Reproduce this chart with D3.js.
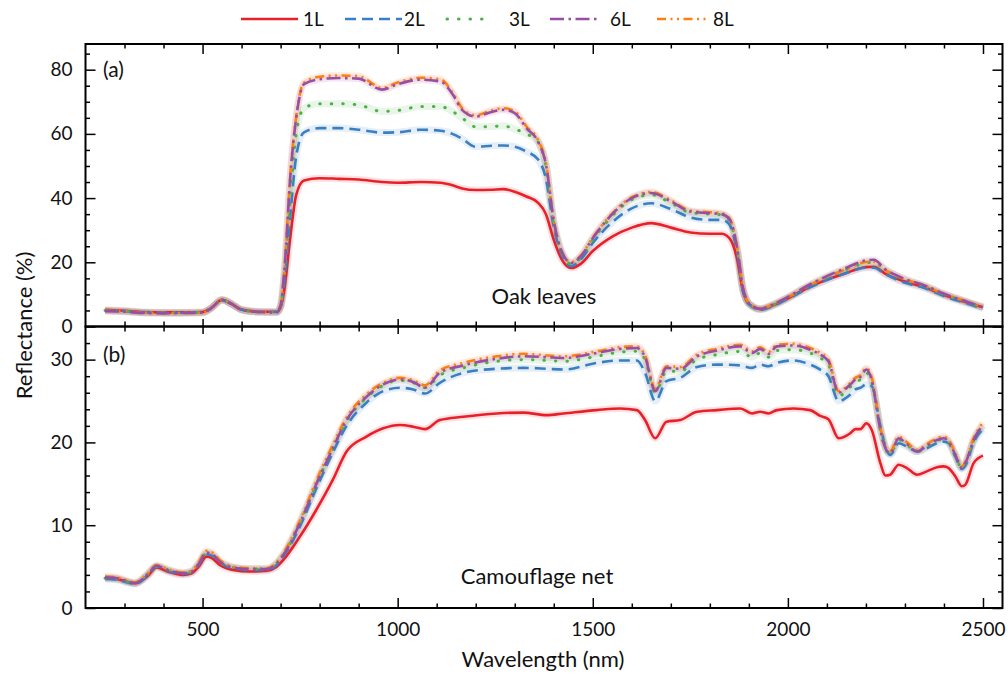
<!DOCTYPE html>
<html>
<head>
<meta charset="utf-8">
<script src="https://cdn.jsdelivr.net/npm/d3@7"></script>
<style>
  body { margin: 0; background: #fff; }
  svg text { font-family: Lato, "Open Sans", sans-serif; fill: #111; }
</style>
</head>
<body>
<div id="chart"></div>
<script>
// Wavelength grids (nm)
const wlTop = [250, 300, 350, 400, 450, 500, 520, 550, 575, 600, 650, 690, 700, 710, 725, 740, 760, 800, 850, 900,
  960, 1000, 1060, 1110, 1140, 1165, 1200, 1240, 1270, 1300, 1330, 1360, 1380, 1400, 1420, 1445, 1470, 1500, 1550,
  1600, 1650, 1700, 1750, 1800, 1830, 1850, 1870, 1885, 1900, 1930, 1960, 2000, 2050, 2100, 2150, 2200, 2220, 2250,
  2300, 2350, 2400, 2450, 2500];

const wlBot = [250, 280, 327, 360, 382, 410, 450, 472, 490, 510, 525, 544, 578, 621, 664, 690, 707, 749, 792, 834,
  869, 920, 963, 1006, 1040, 1070, 1108, 1168, 1254, 1322, 1382, 1425, 1510, 1570, 1613, 1634, 1660, 1689, 1724,
  1767, 1818, 1878, 1908, 1929, 1950, 1972, 2014, 2057, 2083, 2104, 2130, 2160, 2173, 2186, 2201, 2215, 2237, 2250,
  2262, 2284, 2305, 2331, 2356, 2382, 2399, 2412, 2429, 2446, 2455, 2476, 2500];

// (a) Oak leaves, reflectance (%)
const oak1L = [5.2, 4.9, 4.5, 4.4, 4.4, 4.5, 5.6, 8.3, 7.0, 5.3, 4.6, 4.6, 6, 12, 28, 41, 45.5, 46.2, 46, 45.8,
  45, 44.8, 45, 44.8, 44, 43, 42.5, 42.6, 42.8, 42, 40.5, 38.5, 35, 27, 21, 18.2, 19.6, 23.5, 28,
  30.8, 32.2, 30.8, 29.3, 28.9, 28.9, 27.5, 21, 11, 7, 5.4, 6.5, 8.8, 12, 14.6, 16.7, 18.5, 18.6, 16.4,
  14, 12.2, 9.8, 7.8, 6.0];
const oak2L = [5.0, 4.8, 4.4, 4.3, 4.3, 4.4, 5.5, 8.2, 6.9, 5.2, 4.5, 4.5, 6, 14, 35, 53, 60.5, 61.8, 61.8, 61.3,
  60.4, 60.5, 61.3, 61, 60, 58.5, 56, 56.3, 56.4, 56, 54.5, 52, 46, 31, 22.5, 18.8, 21, 26, 32.5,
  36.8, 38.4, 36.6, 34, 33.2, 33.2, 31.8, 23, 11, 7, 5.2, 6.3, 8.6, 11.8, 14.5, 16.7, 18.3, 18.3, 16.3,
  13.6, 12.0, 9.5, 7.5, 5.6];
const oak3L = [5.0, 4.8, 4.4, 4.3, 4.3, 4.4, 5.6, 8.3, 7.0, 5.2, 4.5, 4.5, 6.5, 16, 40, 60, 68, 69.4, 69.4, 69,
  67, 67.3, 68.5, 68.5, 67, 65, 62.2, 62.3, 62.5, 61.5, 60, 57.5, 50, 32, 23, 19.5, 21.5, 27, 34.5,
  39.5, 41, 38.5, 35.5, 35, 34.8, 33, 24, 11.5, 7.2, 5.4, 6.6, 9, 12.4, 15.3, 17.8, 19.8, 20, 17.5,
  14.6, 12.6, 10, 8, 5.9];
const oak6L = [4.8, 4.6, 4.2, 4.1, 4.2, 4.3, 5.5, 8.3, 7.0, 5.2, 4.5, 4.4, 6.5, 18, 47, 65, 75.5, 77, 77.4, 77.2,
  73.8, 75.5, 76.9, 76.3, 72.5, 67.5, 65.4, 66.8, 67.5, 66.5, 61.8, 57.5, 50.5, 33, 23.5, 19.8, 22, 27.5, 35,
  40, 41.6, 39, 35.8, 35.3, 35, 33.5, 24.5, 12, 7.3, 5.5, 6.8, 9.2, 12.7, 15.7, 18.3, 20.6, 20.8, 17.8,
  14.8, 12.8, 10.2, 8.1, 6.0];
const oak8L = [4.9, 4.7, 4.3, 4.2, 4.2, 4.3, 5.5, 8.3, 7.0, 5.2, 4.5, 4.4, 6.5, 18, 47.5, 65.5, 76, 77.8, 78.2, 78,
  74.3, 76, 77.5, 77, 73, 68, 65.8, 67.3, 68, 67, 62.3, 58, 51, 33, 23.5, 20, 22.2, 27.7, 35.2,
  40.3, 41.9, 39.3, 36.1, 35.6, 35.3, 33.8, 24.5, 12, 7.3, 5.6, 6.8, 9.1, 12.5, 15.4, 17.9, 20.1, 20.2, 17.6,
  14.7, 12.7, 10.1, 8.1, 6.1];

// (b) Camouflage net, reflectance (%)
const net1L = [3.6, 3.5, 3.0, 3.9, 4.9, 4.4, 4.0, 4.2, 5.0, 6.2, 6.0, 5.2, 4.6, 4.4, 4.5, 5.0, 5.8, 8.6, 11.9, 15.5,
  18.9, 20.7, 21.7, 22.1, 21.9, 21.6, 22.7, 23.1, 23.5, 23.6, 23.3, 23.5, 23.9, 24.1, 23.9, 22.7, 20.5, 22.5, 22.7,
  23.7, 23.9, 24.1, 23.5, 23.7, 23.5, 23.9, 24.1, 23.9, 23.2, 22.8, 20.5, 21.1, 21.6, 21.6, 22.3, 21.5, 17.5, 16.0,
  16.1, 17.3, 16.9, 16.1, 16.5, 17.0, 17.1, 16.9, 15.9, 14.7, 14.9, 17.5, 18.4];
const net2L = [3.5, 3.4, 2.9, 4.0, 5.0, 4.5, 4.1, 4.3, 5.2, 6.5, 6.3, 5.5, 4.8, 4.6, 4.6, 5.2, 6.2, 9.8, 14.5, 18.8,
  22.0, 24.8, 26.2, 26.6, 26.4, 25.9, 27.2, 28.4, 28.9, 29.0, 28.9, 28.8, 29.6, 29.9, 29.9, 28.4, 25.0, 27.4, 27.8,
  29.1, 29.4, 29.3, 29.0, 29.4, 29.2, 29.6, 29.9, 29.4, 28.8, 28.0, 25.0, 25.8, 26.4, 26.6, 27.0, 26.8, 22.0, 19.5,
  18.5, 19.9, 19.5, 18.9, 19.3, 19.9, 20.1, 19.9, 18.3, 16.8, 17.2, 20.0, 21.6];
const net3L = [3.6, 3.5, 3.0, 4.1, 5.0, 4.6, 4.2, 4.4, 5.3, 6.6, 6.4, 5.5, 4.9, 4.7, 4.7, 5.4, 6.4, 10.2, 15.0, 19.3,
  22.6, 25.4, 26.9, 27.5, 27.2, 26.6, 28.1, 29.0, 29.8, 30.0, 29.9, 29.8, 30.4, 30.9, 31.0, 30.0, 26.0, 28.6, 28.6,
  30.0, 30.6, 31.0, 30.3, 30.8, 30.3, 31.1, 31.2, 30.8, 30.2, 29.4, 25.6, 26.7, 27.3, 27.6, 28.4, 27.3, 21.5, 19.2,
  18.6, 20.3, 19.7, 18.9, 19.5, 20.2, 20.4, 20.0, 18.4, 16.9, 17.4, 20.2, 22.0];
const net6L = [3.7, 3.6, 3.0, 4.1, 5.1, 4.6, 4.2, 4.4, 5.3, 6.7, 6.5, 5.6, 4.9, 4.7, 4.7, 5.4, 6.4, 10.2, 15.0, 19.3,
  22.7, 25.5, 27.0, 27.6, 27.3, 26.6, 28.4, 29.3, 30.1, 30.4, 30.3, 30.2, 30.8, 31.3, 31.4, 30.3, 26.2, 29.0, 28.9,
  30.4, 31.1, 31.6, 30.8, 31.3, 30.7, 31.6, 31.7, 31.2, 30.6, 29.8, 26.0, 27.0, 27.6, 27.9, 28.8, 27.5, 21.5, 19.3,
  18.7, 20.5, 19.8, 18.9, 19.6, 20.3, 20.5, 20.1, 18.5, 16.9, 17.5, 20.3, 22.1];
const net8L = [3.8, 3.7, 3.1, 4.2, 5.2, 4.7, 4.3, 4.5, 5.5, 6.9, 6.7, 5.8, 5.0, 4.8, 4.8, 5.5, 6.6, 10.5, 15.4, 19.7,
  23.0, 25.8, 27.2, 27.8, 27.5, 26.9, 28.7, 29.6, 30.4, 30.7, 30.5, 30.4, 31.0, 31.5, 31.6, 30.5, 26.5, 29.2, 29.1,
  30.6, 31.3, 31.8, 31.0, 31.5, 30.9, 31.8, 31.9, 31.4, 30.8, 30.0, 26.2, 27.2, 27.8, 28.1, 29.0, 27.8, 21.8, 19.5,
  18.9, 20.7, 20.0, 19.1, 19.8, 20.5, 20.7, 20.3, 18.7, 17.1, 17.7, 20.5, 22.4];

const seriesNames = ["1L", "2L", "3L", "6L", "8L"];
const colors = {"1L": "#e8202a", "2L": "#3a7fc1", "3L": "#4daf4a", "6L": "#984ea3", "8L": "#ff7f0e"};
const dashes = {"1L": null, "2L": "11,6", "3L": "0.5,11", "6L": "14,4.5,2.5,4.5", "8L": "9,4.5,2,4.5,2,4.5"};
const drawOrder = ["1L", "2L", "3L", "8L", "6L"];

const oak = {"1L": oak1L, "2L": oak2L, "3L": oak3L, "6L": oak6L, "8L": oak8L};
const net = {"1L": net1L, "2L": net2L, "3L": net3L, "6L": net6L, "8L": net8L};

const W = 1008, H = 675;
const plotL = 85.5, plotR = 1002.5, plotT = 44, plotM = 326.5, plotB = 608;

const svg = d3.select("#chart").append("svg")
  .attr("width", W)
  .attr("height", H);

const x = d3.scaleLinear().domain([200, 2550]).range([plotL, plotR]);
const yTop = d3.scaleLinear().domain([0, 88]).range([plotM, plotT]);
const yBot = d3.scaleLinear().domain([0, 34]).range([plotB, plotM]);

// Curves
function drawPanel(wl, values, y, curve) {
  const g = svg.append("g");
  const line = d3.line()
    .x((d, i) => x(wl[i]))
    .y(d => y(d))
    .curve(curve);
  // faint band around each mean curve
  drawOrder.forEach(name => {
    g.append("path")
      .attr("d", line(values[name]))
      .attr("fill", "none")
      .attr("stroke", colors[name])
      .attr("stroke-opacity", 0.13)
      .attr("stroke-width", 7)
      .attr("stroke-linejoin", "round");
  });
  drawOrder.forEach(name => {
    g.append("path")
      .attr("d", line(values[name]))
      .attr("fill", "none")
      .attr("stroke", colors[name])
      .attr("stroke-width", name === "3L" ? 3 : 2.6)
      .attr("stroke-linecap", name === "3L" ? "round" : "butt")
      .attr("stroke-dasharray", dashes[name]);
  });
}

drawPanel(wlTop, oak, yTop, d3.curveMonotoneX);
drawPanel(wlBot, net, yBot, d3.curveMonotoneX);

// Axes helper
function styleAxis(g) {
  g.selectAll("path.domain").remove();
  g.selectAll("line").attr("stroke", "#000").attr("stroke-width", 1.5);
  g.selectAll("text").attr("font-size", 19).attr("fill", "#111");
}

function addAxis(axis, transform, scale, major, minor, size, minorSize, labels, pad) {
  const gMinor = svg.append("g").attr("transform", transform)
    .call(axis(scale).tickValues(minor).tickSize(minorSize).tickFormat(""));
  styleAxis(gMinor);
  const gMajor = svg.append("g").attr("transform", transform)
    .call(axis(scale).tickValues(major).tickSize(size).tickPadding(pad || 8)
      .tickFormat(labels ? d3.format("d") : ""));
  styleAxis(gMajor);
  return gMajor;
}

const xMajor = [500, 1000, 1500, 2000, 2500];
const xMinor = d3.range(300, 2550, 100).filter(v => v % 500 !== 0);
const topMajor = [0, 20, 40, 60, 80];
const topMinor = d3.range(5, 88, 5).filter(v => v % 20 !== 0);
const botMajor = [0, 10, 20, 30];
const botMinor = d3.range(2, 34, 2).filter(v => v % 10 !== 0);

// top panel
addAxis(d3.axisLeft, `translate(${plotL},0)`, yTop, topMajor, topMinor, -10, -4.5, true, 13);
addAxis(d3.axisRight, `translate(${plotR},0)`, yTop, topMajor, topMinor, -10, -4.5, false);
addAxis(d3.axisTop, `translate(0,${plotT})`, x, xMajor, xMinor, -10, -4.5, false);
addAxis(d3.axisBottom, `translate(0,${plotM})`, x, xMajor, xMinor, -7.5, -5, false);

// bottom panel
addAxis(d3.axisLeft, `translate(${plotL},0)`, yBot, botMajor, botMinor, -10, -4.5, true, 13);
addAxis(d3.axisRight, `translate(${plotR},0)`, yBot, botMajor, botMinor, -10, -4.5, false);
addAxis(d3.axisTop, `translate(0,${plotM})`, x, xMajor, xMinor, -7.5, -5, false);
addAxis(d3.axisBottom, `translate(0,${plotB})`, x, xMajor, xMinor, -10, -4.5, true, 15);

// frames
[[plotT, plotM], [plotM, plotB]].forEach(([t, b]) => {
  svg.append("rect")
    .attr("x", plotL).attr("y", t)
    .attr("width", plotR - plotL).attr("height", b - t)
    .attr("fill", "none")
    .attr("stroke", "#000")
    .attr("stroke-width", 2);
});

// panel labels
svg.append("text").attr("x", 103).attr("y", 77).attr("font-size", 21).text("(a)");
svg.append("text").attr("x", 103).attr("y", 362).attr("font-size", 21).text("(b)");
svg.append("text").attr("x", 544).attr("y", 304).attr("font-size", 22)
  .attr("text-anchor", "middle").text("Oak leaves");
svg.append("text").attr("x", 537).attr("y", 584).attr("font-size", 22)
  .attr("text-anchor", "middle").text("Camouflage net");

// axis titles
svg.append("text")
  .attr("x", 543).attr("y", 667)
  .attr("text-anchor", "middle")
  .attr("font-size", 22)
  .text("Wavelength (nm)");
svg.append("text")
  .attr("transform", `translate(32,${plotM - 1}) rotate(-90)`)
  .attr("text-anchor", "middle")
  .attr("font-size", 22)
  .text("Reflectance (%)");

// legend
const legendX = [241, 345, 447, 550, 657];
const legendLabelX = [303, 404, 509, 610, 713];
const legendLen = [57, 57, 45, 50, 50];
seriesNames.forEach((name, i) => {
  svg.append("line")
    .attr("x1", legendX[i]).attr("x2", legendX[i] + legendLen[i])
    .attr("y1", 19).attr("y2", 19)
    .attr("stroke", colors[name])
    .attr("stroke-width", name === "3L" ? 3 : 2.6)
    .attr("stroke-linecap", name === "3L" ? "round" : "butt")
    .attr("stroke-dasharray", dashes[name]);
  svg.append("text")
    .attr("x", legendLabelX[i]).attr("y", 26)
    .attr("font-size", 19)
    .text(name);
});
</script>
</body>
</html>
